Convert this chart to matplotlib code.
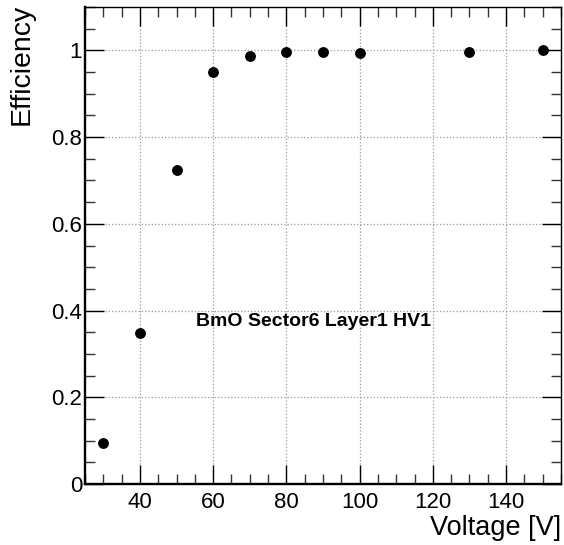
import matplotlib
matplotlib.use("Agg")
import matplotlib.pyplot as plt
from matplotlib.ticker import MultipleLocator

voltage = [30, 40, 50, 60, 70, 80, 90, 100, 130, 150]
efficiency = [0.095, 0.349, 0.723, 0.951, 0.988, 0.997, 0.997, 0.995, 0.997, 1.0]
label_text = "BmO Sector6 Layer1 HV1"

plt.rcParams['font.family'] = ['Liberation Sans', 'DejaVu Sans']

fig = plt.figure(figsize=(5.64, 5.45), dpi=100)
ax = fig.add_axes([85/564, 1-484/545, (561-85)/564, (484-7)/545])
ax.plot(voltage, efficiency, 'o', color='black', markersize=6.8, zorder=3)
ax.set_xlim(25, 155)
ax.set_ylim(0, 1.1)
ax.xaxis.set_major_locator(MultipleLocator(20))
ax.xaxis.set_minor_locator(MultipleLocator(5))
ax.yaxis.set_major_locator(MultipleLocator(0.2))
ax.yaxis.set_minor_locator(MultipleLocator(0.05))
ax.yaxis.set_major_formatter(matplotlib.ticker.FuncFormatter(lambda v, p: f"{v:g}"))
ax.tick_params(which='both', direction='in', top=True, right=True, labelsize=16, width=1.0, colors='black')
ax.tick_params(which='major', length=14)
ax.tick_params(which='minor', length=7, color='#333333')
ax.tick_params(axis='x', which='major', pad=6)
ax.tick_params(axis='y', which='major', pad=2)
ax.spines['left'].set_linewidth(1.7)
ax.spines['bottom'].set_linewidth(1.7)
ax.spines['top'].set_linewidth(1.0)
ax.spines['right'].set_linewidth(1.0)
ax.grid(True, which='major', linestyle=':', color='#999999', linewidth=0.9)
ax.text(55.2, 0.374, label_text, fontsize=14, fontweight='bold', va='center', ha='left')
fig.text(561/564, 1-528/545, "Voltage [V]", fontsize=19.5, ha='right', va='center')
fig.text(22/564, 1-4/545, "Efficiency", fontsize=20.5, rotation=90, ha='center', va='top')
fig.savefig("out.png", dpi=100)
